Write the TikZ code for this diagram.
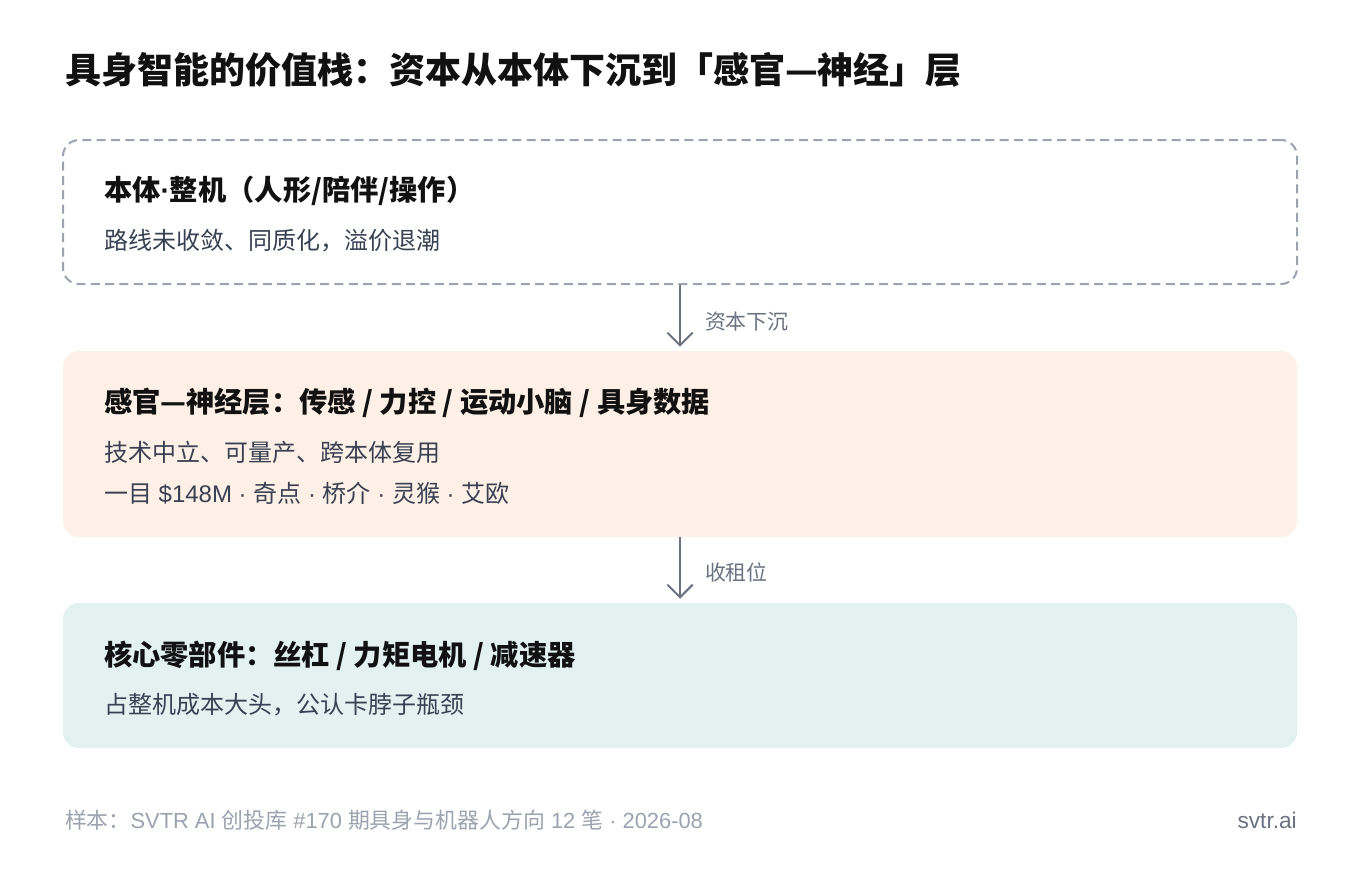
\documentclass[tikz,border=0pt]{standalone}
\usepackage{fontspec}
\setmainfont{Noto Sans CJK SC}
\newfontfamily\latinsans{Liberation Sans}
\newcommand\lat[1]{{\latinsans #1}}
\usetikzlibrary{arrows.meta}
\definecolor{titlecol}{HTML}{111111}
\definecolor{bodycol}{HTML}{374151}
\definecolor{arrowcol}{HTML}{6B7280}
\definecolor{dashcol}{HTML}{9CA3AF}
\definecolor{footcol}{HTML}{9CA3AF}
\definecolor{peach}{HTML}{FEF0E7}
\definecolor{mint}{HTML}{E3F2F1}
\tikzset{
  layerbox/.style={rectangle, rounded corners=12pt, minimum width=925.5pt, inner sep=0pt},
  txt/.style={anchor=base west, inner sep=0pt, outer sep=0pt},
  titletxt/.style={txt, text=titlecol, font=\fontsize{27}{32}\selectfont\bfseries},
  headtxt/.style={txt, text=titlecol, font=\fontsize{21.2}{25}\selectfont\bfseries},
  bodytxt/.style={txt, text=bodycol, font=\fontsize{18}{22}\selectfont},
  lbltxt/.style={txt, text=arrowcol, font=\fontsize{15.7}{19}\selectfont},
  flow/.style={draw=arrowcol, line width=1.5pt, -{Straight Barb[length=9.5pt, width=19pt, line width=1.5pt]}, shorten >=3pt}
}
\begin{document}
\begin{tikzpicture}[x=0.75pt, y=-0.75pt]
\useasboundingbox[fill=white] (0,0) rectangle (1360,868);
% title
\node[titletxt] (title) at (65,83) {具身智能的价值栈：资本从本体下沉到「感官—神经」层};
% boxes
\node[layerbox, draw=dashcol, line width=1.5pt, dash pattern=on 6.75pt off 4pt, minimum height=108pt] (b1) at (680,212) {};
\node[layerbox, fill=peach, minimum height=139.5pt] (b2) at (680,444) {};
\node[layerbox, fill=mint, minimum height=108.75pt] (b3) at (680,675.5) {};
% box 1 text
\node[headtxt] (h1) at (104,200) {本体\lat{·}整机（人形/陪伴/操作）};
\node[bodytxt] (t1) at (104,249) {路线未收敛、同质化，溢价退潮};
% box 2 text
\node[headtxt] (h2) at (104,412) {感官—神经层：传感 / 力控 / 运动小脑 / 具身数据};
\node[bodytxt] (t2a) at (104,461) {技术中立、可量产、跨本体复用};
\node[bodytxt] (t2b) at (104,502) {一目\lat{ \$148M · }奇点\lat{ · }桥介\lat{ · }灵猴\lat{ · }艾欧};
% box 3 text
\node[headtxt] (h3) at (104,665) {核心零部件：丝杠 / 力矩电机 / 减速器};
\node[bodytxt] (t3) at (104,713) {占整机成本大头，公认卡脖子瓶颈};
% arrows
\draw[flow] (b1.south) -- (b2.north);
\draw[flow] (b2.south) -- (b3.north);
\node[lbltxt] (l1) at (705,329) {资本下沉};
\node[lbltxt] (l2) at (705,580) {收租位};
% footer
\node[txt, text=footcol, font=\fontsize{16.4}{19}\selectfont] (foot) at (65,828) {样本：\lat{SVTR AI }创投库\lat{ \#170 }期具身与机器人方向\lat{ 12 }笔\lat{ · 2026-08}};
\node[anchor=base east, inner sep=0pt, text=arrowcol, font=\latinsans\fontsize{17}{20}\selectfont] (brand) at (1297,828) {svtr.ai};
\end{tikzpicture}
\end{document}
